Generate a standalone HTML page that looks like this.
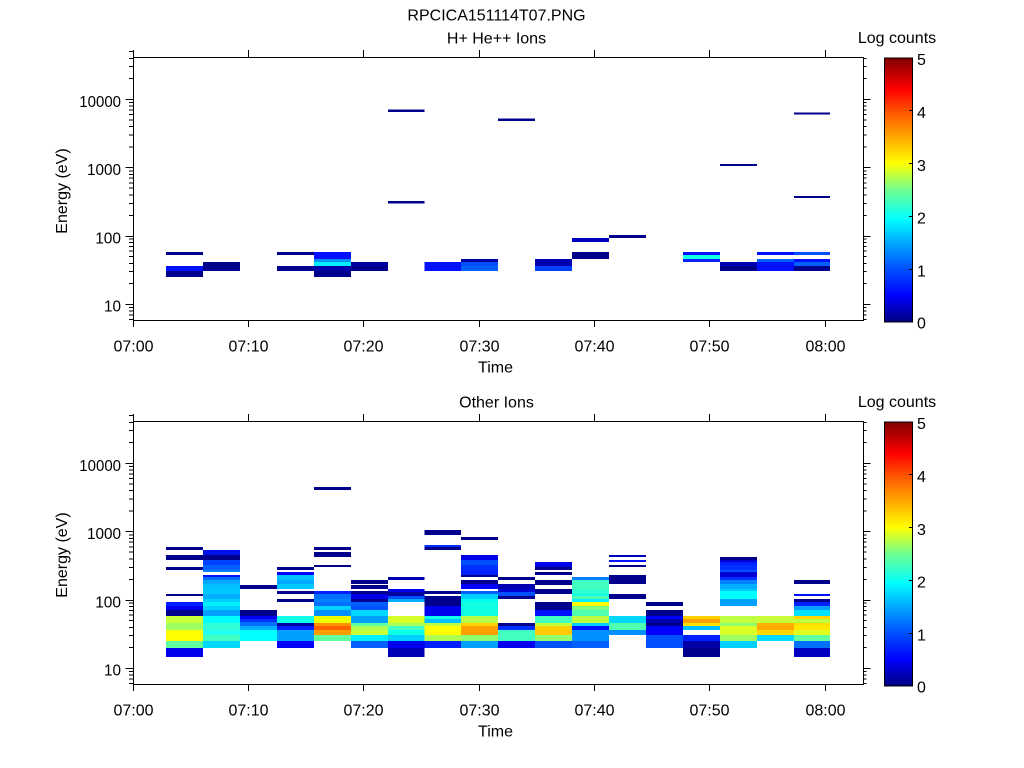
<!DOCTYPE html>
<html>
<head>
<meta charset="utf-8">
<style>
html,body{margin:0;padding:0;background:#fff;}
svg{display:block;}
text{font-family:"Liberation Sans",Arial,Helvetica,sans-serif;fill:#000;}
</style>
</head>
<body>
<svg width="1024" height="768" viewBox="0 0 1024 768" xmlns="http://www.w3.org/2000/svg">
<defs>
<linearGradient id="cm" x1="0" y1="1" x2="0" y2="0">
<stop offset="0" stop-color="#000080"/>
<stop offset="0.1" stop-color="#0000ff"/>
<stop offset="0.2" stop-color="#0050ff"/>
<stop offset="0.3" stop-color="#00a8ff"/>
<stop offset="0.39" stop-color="#00ffff"/>
<stop offset="0.5" stop-color="#70ff90"/>
<stop offset="0.6" stop-color="#ffff00"/>
<stop offset="0.7" stop-color="#ffa800"/>
<stop offset="0.8" stop-color="#ff5000"/>
<stop offset="0.88" stop-color="#ff0000"/>
<stop offset="1" stop-color="#800000"/>
</linearGradient>
</defs>

<text x="496.5" y="20.5" font-size="16" text-anchor="middle">RPCICA151114T07.PNG</text>

<!-- ================= TOP PANEL DATA ================= -->
<g shape-rendering="crispEdges">
<!-- c0 -->
<rect x="166" y="252" width="37" height="3" fill="#00008c"/>
<rect x="166" y="266" width="37" height="5" fill="#0010ff"/>
<rect x="166" y="271" width="37" height="6" fill="#00008c"/>
<!-- c1 -->
<rect x="203" y="262" width="37" height="9" fill="#00008c"/>
<!-- c3 -->
<rect x="277" y="252" width="37" height="3" fill="#00008c"/>
<rect x="277" y="266" width="37" height="5" fill="#00008c"/>
<!-- c4 -->
<rect x="314" y="252" width="37" height="7" fill="#0010ff"/>
<rect x="314" y="259" width="37" height="3" fill="#0090ff"/>
<rect x="314" y="262" width="37" height="4" fill="#00f0ff"/>
<rect x="314" y="266" width="37" height="5" fill="#0000a8"/>
<rect x="314" y="271" width="37" height="6" fill="#00008c"/>
<!-- c5 -->
<rect x="351" y="262" width="37" height="4" fill="#0000a0"/>
<rect x="351" y="266" width="37" height="5" fill="#00008c"/>
<!-- c6 -->
<rect x="388" y="109.5" width="36.5" height="2.5" fill="#00008c"/>
<rect x="388" y="201" width="36.5" height="2.5" fill="#00008c"/>
<!-- c7 -->
<rect x="424.5" y="262" width="36.5" height="9" fill="#0010ff"/>
<!-- c8 -->
<rect x="461" y="259" width="37" height="3" fill="#0000a0"/>
<rect x="461" y="262" width="37" height="4" fill="#0050ff"/>
<rect x="461" y="266" width="37" height="5" fill="#0060ff"/>
<!-- c9 -->
<rect x="498" y="118.5" width="37" height="2.5" fill="#00008c"/>
<!-- c10 -->
<rect x="535" y="259" width="37" height="7" fill="#0000b0"/>
<rect x="535" y="266" width="37" height="5" fill="#0040ff"/>
<!-- c11 -->
<rect x="572" y="238" width="37" height="4" fill="#0000c0"/>
<rect x="572" y="252" width="37" height="7" fill="#00008c"/>
<!-- c12 -->
<rect x="609" y="235" width="37" height="3" fill="#00008c"/>
<!-- c14 -->
<rect x="683" y="252" width="37" height="3" fill="#0010ff"/>
<rect x="683" y="255" width="37" height="4" fill="#10ffe8"/>
<rect x="683" y="259" width="37" height="3" fill="#0020ff"/>
<!-- c15 -->
<rect x="720" y="164" width="37" height="2" fill="#00008c"/>
<rect x="720" y="262" width="37" height="4" fill="#0000b0"/>
<rect x="720" y="266" width="37" height="5" fill="#00008c"/>
<!-- c16 -->
<rect x="757" y="252" width="37" height="3" fill="#0010ff"/>
<rect x="757" y="259" width="37" height="3" fill="#0060ff"/>
<rect x="757" y="262" width="37" height="9" fill="#0010ff"/>
<!-- c17 -->
<rect x="794" y="112.5" width="36" height="2" fill="#00008c"/>
<rect x="794" y="196" width="36" height="2" fill="#00008c"/>
<rect x="794" y="252" width="36" height="3" fill="#0050ff"/>
<rect x="794" y="259" width="36" height="3" fill="#0010ff"/>
<rect x="794" y="262" width="36" height="4" fill="#0060ff"/>
<rect x="794" y="266" width="36" height="5" fill="#00008c"/>
</g>

<!-- ================= BOTTOM PANEL DATA ================= -->
<g shape-rendering="crispEdges">
<!-- c0 -->
<rect x="166" y="547" width="37" height="3" fill="#00008c"/>
<rect x="166" y="555" width="37" height="5" fill="#00008c"/>
<rect x="166" y="567" width="37" height="3" fill="#00008c"/>
<rect x="166" y="594" width="37" height="2" fill="#00008c"/>
<rect x="166" y="602" width="37" height="4" fill="#0020ff"/>
<rect x="166" y="606" width="37" height="4" fill="#0000f0"/>
<rect x="166" y="610" width="37" height="6" fill="#00008c"/>
<rect x="166" y="616" width="37" height="7" fill="#c8ff38"/>
<rect x="166" y="623" width="37" height="7" fill="#a0ff60"/>
<rect x="166" y="630" width="37" height="11" fill="#ffff00"/>
<rect x="166" y="641" width="37" height="7" fill="#60ffa0"/>
<rect x="166" y="648" width="37" height="9" fill="#0000ee"/>
<!-- c1 -->
<rect x="203" y="550" width="37" height="5" fill="#0010e8"/>
<rect x="203" y="555" width="37" height="5" fill="#00008c"/>
<rect x="203" y="560" width="37" height="5" fill="#0040ff"/>
<rect x="203" y="565" width="37" height="5" fill="#0060ff"/>
<rect x="203" y="570" width="37" height="2" fill="#0080ff"/>
<rect x="203" y="575" width="37" height="2" fill="#0010ff"/>
<rect x="203" y="577" width="37" height="3" fill="#0070ff"/>
<rect x="203" y="580" width="37" height="4" fill="#00a8ff"/>
<rect x="203" y="584" width="37" height="5" fill="#00c0ff"/>
<rect x="203" y="589" width="37" height="5" fill="#00c8ff"/>
<rect x="203" y="594" width="37" height="5" fill="#00b0ff"/>
<rect x="203" y="599" width="37" height="3" fill="#00d0ff"/>
<rect x="203" y="602" width="37" height="4" fill="#00f0ff"/>
<rect x="203" y="606" width="37" height="4" fill="#00d0ff"/>
<rect x="203" y="610" width="37" height="6" fill="#00a0ff"/>
<rect x="203" y="616" width="37" height="7" fill="#00ffff"/>
<rect x="203" y="623" width="37" height="7" fill="#30ffd8"/>
<rect x="203" y="630" width="37" height="5" fill="#20fff0"/>
<rect x="203" y="635" width="37" height="6" fill="#40ffc0"/>
<rect x="203" y="641" width="37" height="7" fill="#00d8ff"/>
<!-- c2 -->
<rect x="240" y="585" width="37" height="4" fill="#00008c"/>
<rect x="240" y="610" width="37" height="6" fill="#00008c"/>
<rect x="240" y="616" width="37" height="3" fill="#0000f8"/>
<rect x="240" y="619" width="37" height="3" fill="#0030ff"/>
<rect x="240" y="622" width="37" height="4" fill="#0070ff"/>
<rect x="240" y="626" width="37" height="4" fill="#00b0ff"/>
<rect x="240" y="630" width="37" height="11" fill="#00ffff"/>
<!-- c3 -->
<rect x="277" y="567" width="37" height="3" fill="#00008c"/>
<rect x="277" y="572" width="37" height="3" fill="#0000ff"/>
<rect x="277" y="575" width="37" height="5" fill="#00c0ff"/>
<rect x="277" y="580" width="37" height="4" fill="#00a8ff"/>
<rect x="277" y="584" width="37" height="5" fill="#00c8ff"/>
<rect x="277" y="591" width="37" height="3" fill="#00008c"/>
<rect x="277" y="599" width="37" height="3" fill="#00008c"/>
<rect x="277" y="616" width="37" height="7" fill="#10ffe8"/>
<rect x="277" y="623" width="37" height="3" fill="#0000a0"/>
<rect x="277" y="626" width="37" height="4" fill="#0020ff"/>
<rect x="277" y="630" width="37" height="11" fill="#00a0ff"/>
<rect x="277" y="641" width="37" height="7" fill="#0000ff"/>
<!-- c4 -->
<rect x="314" y="487" width="37" height="3" fill="#00008c"/>
<rect x="314" y="547" width="37" height="3" fill="#00008c"/>
<rect x="314" y="552" width="37" height="5" fill="#00008c"/>
<rect x="314" y="565" width="37" height="2" fill="#00008c"/>
<rect x="314" y="591" width="37" height="3" fill="#0020ff"/>
<rect x="314" y="594" width="37" height="5" fill="#0070ff"/>
<rect x="314" y="599" width="37" height="3" fill="#0080ff"/>
<rect x="314" y="602" width="37" height="4" fill="#0070ff"/>
<rect x="314" y="606" width="37" height="4" fill="#00d0ff"/>
<rect x="314" y="610" width="37" height="6" fill="#0090ff"/>
<rect x="314" y="616" width="37" height="7" fill="#f0ff00"/>
<rect x="314" y="623" width="37" height="3" fill="#ff9000"/>
<rect x="314" y="626" width="37" height="4" fill="#ff6000"/>
<rect x="314" y="630" width="37" height="5" fill="#ffa000"/>
<rect x="314" y="635" width="37" height="6" fill="#60ffa0"/>
<!-- c5 -->
<rect x="351" y="580" width="37" height="4" fill="#00008c"/>
<rect x="351" y="585" width="37" height="4" fill="#00008c"/>
<rect x="351" y="591" width="37" height="3" fill="#00008c"/>
<rect x="351" y="594" width="37" height="5" fill="#0000ee"/>
<rect x="351" y="599" width="37" height="3" fill="#000090"/>
<rect x="351" y="602" width="37" height="4" fill="#0060ff"/>
<rect x="351" y="606" width="37" height="4" fill="#0050ff"/>
<rect x="351" y="610" width="37" height="6" fill="#00d8ff"/>
<rect x="351" y="616" width="37" height="7" fill="#00a0ff"/>
<rect x="351" y="623" width="37" height="3" fill="#60ffa0"/>
<rect x="351" y="626" width="37" height="4" fill="#b0ff50"/>
<rect x="351" y="630" width="37" height="5" fill="#c8ff38"/>
<rect x="351" y="635" width="37" height="6" fill="#00f0ff"/>
<rect x="351" y="641" width="37" height="7" fill="#0060ff"/>
<!-- c6 -->
<rect x="388" y="577" width="36.5" height="3" fill="#0000b0"/>
<rect x="388" y="589" width="36.5" height="3" fill="#0000ee"/>
<rect x="388" y="592" width="36.5" height="4" fill="#0000a0"/>
<rect x="388" y="596" width="36.5" height="3" fill="#0050ff"/>
<rect x="388" y="599" width="36.5" height="3" fill="#00b0ff"/>
<rect x="388" y="616" width="36.5" height="7" fill="#d8ff28"/>
<rect x="388" y="623" width="36.5" height="3" fill="#a8ff58"/>
<rect x="388" y="626" width="36.5" height="4" fill="#40ffc0"/>
<rect x="388" y="630" width="36.5" height="5" fill="#10ffe8"/>
<rect x="388" y="635" width="36.5" height="6" fill="#00d0ff"/>
<rect x="388" y="641" width="36.5" height="7" fill="#0000f0"/>
<rect x="388" y="648" width="36.5" height="9" fill="#0000b8"/>
<!-- c7 -->
<rect x="424.5" y="530" width="36.5" height="5" fill="#00008c"/>
<rect x="424.5" y="545" width="36.5" height="2" fill="#0030ff"/>
<rect x="424.5" y="547" width="36.5" height="3" fill="#00008c"/>
<rect x="424.5" y="591" width="36.5" height="3" fill="#00008c"/>
<rect x="424.5" y="596" width="36.5" height="10" fill="#00008c"/>
<rect x="424.5" y="606" width="36.5" height="10" fill="#0000f0"/>
<rect x="424.5" y="616" width="36.5" height="3" fill="#10ffe8"/>
<rect x="424.5" y="619" width="36.5" height="4" fill="#00c0ff"/>
<rect x="424.5" y="623" width="36.5" height="3" fill="#c0ff40"/>
<rect x="424.5" y="626" width="36.5" height="9" fill="#ffff00"/>
<rect x="424.5" y="635" width="36.5" height="6" fill="#b0ff50"/>
<rect x="424.5" y="641" width="36.5" height="7" fill="#0020ff"/>
<!-- c8 -->
<rect x="461" y="537" width="37" height="3" fill="#00008c"/>
<rect x="461" y="555" width="37" height="5" fill="#0000e8"/>
<rect x="461" y="560" width="37" height="5" fill="#0050ff"/>
<rect x="461" y="565" width="37" height="5" fill="#0030ff"/>
<rect x="461" y="570" width="37" height="5" fill="#0020ff"/>
<rect x="461" y="575" width="37" height="2" fill="#00008c"/>
<rect x="461" y="580" width="37" height="4" fill="#00008c"/>
<rect x="461" y="584" width="37" height="5" fill="#0000ff"/>
<rect x="461" y="591" width="37" height="3" fill="#0060ff"/>
<rect x="461" y="594" width="37" height="5" fill="#00d0ff"/>
<rect x="461" y="599" width="37" height="3" fill="#00ffe8"/>
<rect x="461" y="602" width="37" height="14" fill="#10ffe0"/>
<rect x="461" y="616" width="37" height="7" fill="#b8ff48"/>
<rect x="461" y="623" width="37" height="3" fill="#ffd000"/>
<rect x="461" y="626" width="37" height="9" fill="#ffa000"/>
<rect x="461" y="635" width="37" height="6" fill="#90ff70"/>
<rect x="461" y="641" width="37" height="7" fill="#00a0ff"/>
<!-- c9 -->
<rect x="498" y="577" width="37" height="3" fill="#00008c"/>
<rect x="498" y="584" width="37" height="5" fill="#0000b0"/>
<rect x="498" y="589" width="37" height="3" fill="#0000d0"/>
<rect x="498" y="592" width="37" height="4" fill="#0050ff"/>
<rect x="498" y="596" width="37" height="3" fill="#00008c"/>
<rect x="498" y="623" width="37" height="3" fill="#00008c"/>
<rect x="498" y="626" width="37" height="4" fill="#0030ff"/>
<rect x="498" y="630" width="37" height="11" fill="#40ffc0"/>
<rect x="498" y="641" width="37" height="7" fill="#0000ee"/>
<!-- c10 -->
<rect x="535" y="562" width="37" height="3" fill="#0000f0"/>
<rect x="535" y="565" width="37" height="2" fill="#0000e0"/>
<rect x="535" y="567" width="37" height="3" fill="#00008c"/>
<rect x="535" y="572" width="37" height="3" fill="#00008c"/>
<rect x="535" y="580" width="37" height="5" fill="#00008c"/>
<rect x="535" y="589" width="37" height="5" fill="#00008c"/>
<rect x="535" y="602" width="37" height="8" fill="#00008c"/>
<rect x="535" y="610" width="37" height="6" fill="#0010ff"/>
<rect x="535" y="616" width="37" height="7" fill="#40ffc0"/>
<rect x="535" y="623" width="37" height="3" fill="#c0ff40"/>
<rect x="535" y="626" width="37" height="4" fill="#ffd000"/>
<rect x="535" y="630" width="37" height="5" fill="#ffc800"/>
<rect x="535" y="635" width="37" height="6" fill="#90ff70"/>
<rect x="535" y="641" width="37" height="7" fill="#0050ff"/>
<!-- c11 -->
<rect x="572" y="577" width="37" height="3" fill="#0080ff"/>
<rect x="572" y="580" width="37" height="9" fill="#40ffc0"/>
<rect x="572" y="589" width="37" height="5" fill="#30ffd0"/>
<rect x="572" y="594" width="37" height="2" fill="#10ffe8"/>
<rect x="572" y="596" width="37" height="3" fill="#50ffb0"/>
<rect x="572" y="599" width="37" height="3" fill="#00f0ff"/>
<rect x="572" y="602" width="37" height="4" fill="#ffff00"/>
<rect x="572" y="606" width="37" height="4" fill="#80ff80"/>
<rect x="572" y="610" width="37" height="6" fill="#50ffb0"/>
<rect x="572" y="616" width="37" height="7" fill="#c0ff40"/>
<rect x="572" y="623" width="37" height="3" fill="#00d0ff"/>
<rect x="572" y="626" width="37" height="4" fill="#0010ff"/>
<rect x="572" y="630" width="37" height="11" fill="#0090ff"/>
<rect x="572" y="641" width="37" height="7" fill="#0060ff"/>
<!-- c12 -->
<rect x="609" y="555" width="37" height="2" fill="#0000c0"/>
<rect x="609" y="560" width="37" height="2" fill="#0010ff"/>
<rect x="609" y="565" width="37" height="2" fill="#00008c"/>
<rect x="609" y="575" width="37" height="9" fill="#00008c"/>
<rect x="609" y="594" width="37" height="5" fill="#00008c"/>
<rect x="609" y="616" width="37" height="7" fill="#00d8ff"/>
<rect x="609" y="623" width="37" height="7" fill="#50ffb0"/>
<rect x="609" y="630" width="37" height="5" fill="#0090ff"/>
<!-- c13 -->
<rect x="646" y="602" width="37" height="4" fill="#00008c"/>
<rect x="646" y="610" width="37" height="6" fill="#00008c"/>
<rect x="646" y="616" width="37" height="3" fill="#0000ff"/>
<rect x="646" y="619" width="37" height="4" fill="#0000b0"/>
<rect x="646" y="623" width="37" height="3" fill="#00008c"/>
<rect x="646" y="626" width="37" height="9" fill="#0000ff"/>
<rect x="646" y="635" width="37" height="13" fill="#0050ff"/>
<!-- c14 -->
<rect x="683" y="616" width="37" height="3" fill="#ffd000"/>
<rect x="683" y="619" width="37" height="4" fill="#ffa000"/>
<rect x="683" y="623" width="37" height="3" fill="#ffe000"/>
<rect x="683" y="626" width="37" height="4" fill="#00c0ff"/>
<rect x="683" y="635" width="37" height="6" fill="#0020ff"/>
<rect x="683" y="641" width="37" height="7" fill="#0000a8"/>
<rect x="683" y="648" width="37" height="9" fill="#00008c"/>
<!-- c15 -->
<rect x="720" y="557" width="37" height="3" fill="#00008c"/>
<rect x="720" y="560" width="37" height="2" fill="#0000d0"/>
<rect x="720" y="562" width="37" height="3" fill="#0020ff"/>
<rect x="720" y="565" width="37" height="5" fill="#0030ff"/>
<rect x="720" y="570" width="37" height="2" fill="#0050ff"/>
<rect x="720" y="572" width="37" height="5" fill="#0000d0"/>
<rect x="720" y="577" width="37" height="3" fill="#0030ff"/>
<rect x="720" y="580" width="37" height="4" fill="#0080ff"/>
<rect x="720" y="584" width="37" height="5" fill="#00b0ff"/>
<rect x="720" y="589" width="37" height="2" fill="#00c8ff"/>
<rect x="720" y="591" width="37" height="8" fill="#00ffff"/>
<rect x="720" y="599" width="37" height="7" fill="#00a0ff"/>
<rect x="720" y="616" width="37" height="7" fill="#c0ff40"/>
<rect x="720" y="623" width="37" height="3" fill="#90ff70"/>
<rect x="720" y="626" width="37" height="4" fill="#e0ff20"/>
<rect x="720" y="630" width="37" height="5" fill="#d8ff28"/>
<rect x="720" y="635" width="37" height="6" fill="#a0ff60"/>
<rect x="720" y="641" width="37" height="7" fill="#00d0ff"/>
<!-- c16 -->
<rect x="757" y="616" width="37" height="7" fill="#c8ff38"/>
<rect x="757" y="623" width="37" height="3" fill="#ffb000"/>
<rect x="757" y="626" width="37" height="4" fill="#ffa800"/>
<rect x="757" y="630" width="37" height="5" fill="#ffd800"/>
<rect x="757" y="635" width="37" height="6" fill="#00d8ff"/>
<!-- c17 -->
<rect x="794" y="580" width="36" height="4" fill="#00008c"/>
<rect x="794" y="594" width="36" height="2" fill="#0010ff"/>
<rect x="794" y="599" width="36" height="3" fill="#00008c"/>
<rect x="794" y="602" width="36" height="4" fill="#0020ff"/>
<rect x="794" y="606" width="36" height="4" fill="#00a0ff"/>
<rect x="794" y="610" width="36" height="6" fill="#00e0ff"/>
<rect x="794" y="616" width="36" height="3" fill="#ffd800"/>
<rect x="794" y="619" width="36" height="4" fill="#c0ff40"/>
<rect x="794" y="623" width="36" height="3" fill="#ffe000"/>
<rect x="794" y="626" width="36" height="4" fill="#ffe800"/>
<rect x="794" y="630" width="36" height="5" fill="#e0ff20"/>
<rect x="794" y="635" width="36" height="6" fill="#60ffa0"/>
<rect x="794" y="641" width="36" height="7" fill="#0070ff"/>
<rect x="794" y="648" width="36" height="9" fill="#0000c0"/>
</g>

<!-- ================= TOP PANEL AXES ================= -->
<g>
<g stroke="#000" stroke-width="1" fill="none" shape-rendering="crispEdges">
<path d="M133.5 50V321M133 320.5H864M133 57.5H864M863.5 57V321"/>
<path d="M133.5 320V327M248.5 320V327M363.5 320V327M479.5 320V327M594.5 320V327M709.5 320V327M825.5 320V327"/>
<path d="M133.5 50V57M248.5 50V57M363.5 50V57M479.5 50V57M594.5 50V57M709.5 50V57M825.5 50V57"/>
<path d="M125.5 304.5H133M125.5 236.5H133M125.5 167.5H133M125.5 99.5H133"/>
<path d="M129 319.5H133M129 315H133M129 311H133M129 307.5H133M129 283.5H133M129 271.5H133M129 263.5H133M129 256.5H133M129 251H133M129 246.5H133M129 242.5H133M129 239H133M129 215.5H133M129 203.5H133M129 195H133M129 188H133M129 183H133M129 178H133M129 174.5H133M129 171H133M129 147H133M129 135H133M129 126.5H133M129 120H133M129 114.5H133M129 110H133M129 106H133M129 102.5H133M129 78.5H133M129 66.5H133M129 58.5H133M129 51.5H133"/>
<path d="M863 304.5H870.5M863 236.5H870.5M863 167.5H870.5M863 99.5H870.5"/>
<path d="M863 319.5H866.5M863 315H866.5M863 311H866.5M863 307.5H866.5M863 283.5H866.5M863 271.5H866.5M863 263.5H866.5M863 256.5H866.5M863 251H866.5M863 246.5H866.5M863 242.5H866.5M863 239H866.5M863 215.5H866.5M863 203.5H866.5M863 195H866.5M863 188H866.5M863 183H866.5M863 178H866.5M863 174.5H866.5M863 171H866.5M863 147H866.5M863 135H866.5M863 126.5H866.5M863 120H866.5M863 114.5H866.5M863 110H866.5M863 106H866.5M863 102.5H866.5M863 78.5H866.5M863 66.5H866.5M863 58.5H866.5"/>
</g>
<g font-size="16" text-anchor="end">
<text x="121" y="106.8" textLength="41.7" lengthAdjust="spacingAndGlyphs">10000</text>
<text x="121" y="175" textLength="34" lengthAdjust="spacingAndGlyphs">1000</text>
<text x="121" y="243.3" textLength="25.8" lengthAdjust="spacingAndGlyphs">100</text>
<text x="121" y="311.7" textLength="17" lengthAdjust="spacingAndGlyphs">10</text>
</g>
<g font-size="16" text-anchor="middle">
<text x="133.5" y="351.7">07:00</text>
<text x="248.5" y="351.7">07:10</text>
<text x="363.5" y="351.7">07:20</text>
<text x="479.5" y="351.7">07:30</text>
<text x="594.5" y="351.7">07:40</text>
<text x="709.5" y="351.7">07:50</text>
<text x="825.5" y="351.7">08:00</text>
<text x="495.5" y="372.3">Time</text>
<text x="496.5" y="43.5">H+ He++ Ions</text>
<text x="897" y="43">Log counts</text>
</g>
<text transform="translate(67,191) rotate(-90)" font-size="16" text-anchor="middle">Energy (eV)</text>
<!-- colorbar -->
<rect x="884.5" y="58" width="28" height="264" fill="url(#cm)" stroke="#000" stroke-width="1" shape-rendering="crispEdges"/>
<path d="M909 110.5H912.5M909 163.5H912.5M909 216.5H912.5M909 269.5H912.5" stroke="#000" stroke-width="1" shape-rendering="crispEdges"/>
<g font-size="16">
<text x="917" y="65">5</text>
<text x="917" y="118">4</text>
<text x="917" y="171">3</text>
<text x="917" y="223.5">2</text>
<text x="917" y="276.5">1</text>
<text x="917" y="328.5">0</text>
</g>
</g>

<!-- ================= BOTTOM PANEL AXES ================= -->
<g transform="translate(0,364)">
<g stroke="#000" stroke-width="1" fill="none" shape-rendering="crispEdges">
<path d="M133.5 50V321M133 320.5H864M133 57.5H864M863.5 57V321"/>
<path d="M133.5 320V327M248.5 320V327M363.5 320V327M479.5 320V327M594.5 320V327M709.5 320V327M825.5 320V327"/>
<path d="M133.5 50V57M248.5 50V57M363.5 50V57M479.5 50V57M594.5 50V57M709.5 50V57M825.5 50V57"/>
<path d="M125.5 304.5H133M125.5 236.5H133M125.5 167.5H133M125.5 99.5H133"/>
<path d="M129 319.5H133M129 315H133M129 311H133M129 307.5H133M129 283.5H133M129 271.5H133M129 263.5H133M129 256.5H133M129 251H133M129 246.5H133M129 242.5H133M129 239H133M129 215.5H133M129 203.5H133M129 195H133M129 188H133M129 183H133M129 178H133M129 174.5H133M129 171H133M129 147H133M129 135H133M129 126.5H133M129 120H133M129 114.5H133M129 110H133M129 106H133M129 102.5H133M129 78.5H133M129 66.5H133M129 58.5H133M129 51.5H133"/>
<path d="M863 304.5H870.5M863 236.5H870.5M863 167.5H870.5M863 99.5H870.5"/>
<path d="M863 319.5H866.5M863 315H866.5M863 311H866.5M863 307.5H866.5M863 283.5H866.5M863 271.5H866.5M863 263.5H866.5M863 256.5H866.5M863 251H866.5M863 246.5H866.5M863 242.5H866.5M863 239H866.5M863 215.5H866.5M863 203.5H866.5M863 195H866.5M863 188H866.5M863 183H866.5M863 178H866.5M863 174.5H866.5M863 171H866.5M863 147H866.5M863 135H866.5M863 126.5H866.5M863 120H866.5M863 114.5H866.5M863 110H866.5M863 106H866.5M863 102.5H866.5M863 78.5H866.5M863 66.5H866.5M863 58.5H866.5"/>
</g>
<g font-size="16" text-anchor="end">
<text x="121" y="106.8" textLength="41.7" lengthAdjust="spacingAndGlyphs">10000</text>
<text x="121" y="175" textLength="34" lengthAdjust="spacingAndGlyphs">1000</text>
<text x="121" y="243.3" textLength="25.8" lengthAdjust="spacingAndGlyphs">100</text>
<text x="121" y="311.7" textLength="17" lengthAdjust="spacingAndGlyphs">10</text>
</g>
<g font-size="16" text-anchor="middle">
<text x="133.5" y="351.7">07:00</text>
<text x="248.5" y="351.7">07:10</text>
<text x="363.5" y="351.7">07:20</text>
<text x="479.5" y="351.7">07:30</text>
<text x="594.5" y="351.7">07:40</text>
<text x="709.5" y="351.7">07:50</text>
<text x="825.5" y="351.7">08:00</text>
<text x="495.5" y="372.3">Time</text>
<text x="496.5" y="43.5">Other Ions</text>
<text x="897" y="43">Log counts</text>
</g>
<text transform="translate(67,191) rotate(-90)" font-size="16" text-anchor="middle">Energy (eV)</text>
<rect x="884.5" y="58" width="28" height="264" fill="url(#cm)" stroke="#000" stroke-width="1" shape-rendering="crispEdges"/>
<path d="M909 110.5H912.5M909 163.5H912.5M909 216.5H912.5M909 269.5H912.5" stroke="#000" stroke-width="1" shape-rendering="crispEdges"/>
<g font-size="16">
<text x="917" y="65">5</text>
<text x="917" y="118">4</text>
<text x="917" y="171">3</text>
<text x="917" y="223.5">2</text>
<text x="917" y="276.5">1</text>
<text x="917" y="328.5">0</text>
</g>
</g>
</svg>
</body>
</html>
